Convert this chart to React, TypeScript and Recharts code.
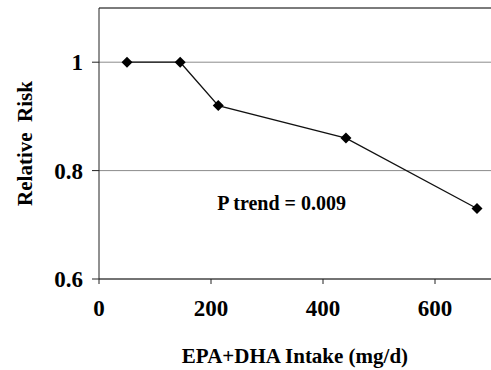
import { LineChart, Line, XAxis, YAxis, CartesianGrid, ReferenceLine, ReferenceDot } from "recharts";

const intake = [50, 145, 213, 441, 675];
const relativeRisk = [1.0, 1.0, 0.92, 0.86, 0.73];
const xTicks = [0, 200, 400, 600];
const yTicks = [0.6, 0.8, 1];

const data = intake.map((x, i) => ({ x, rr: relativeRisk[i] }));

const FONT = "'Liberation Serif', 'Times New Roman', serif";

const Diamond = (props: any) => {
  const { cx, cy } = props;
  if (cx == null || cy == null) return null;
  const r = 5.5;
  return <path d={`M${cx},${cy - r}L${cx + r},${cy}L${cx},${cy + r}L${cx - r},${cy}Z`} fill="#000" />;
};

const App = () => {
  return (
    <div style={{ position: "absolute", left: 0, top: 0, background: "#fff" }}>
      <LineChart width={491} height={370} data={data} margin={{ top: 8, right: 0, bottom: 0, left: 0 }}>
        <CartesianGrid horizontal vertical={false} stroke="#8c8c8c" />
        <XAxis
          type="number"
          dataKey="x"
          domain={[0, 700]}
          ticks={xTicks}
          height={91}
          stroke="#222"
          tickSize={5}
          tickMargin={16}
          tick={{ fontFamily: FONT, fontSize: 23, fontWeight: "bold", fill: "#000" }}
          label={{ value: "EPA+DHA Intake (mg/d)", position: "insideBottom", offset: 7, fontFamily: FONT, fontSize: 21, fontWeight: "bold", fill: "#000" }}
        />
        <YAxis
          type="number"
          domain={[0.6, 1.1]}
          ticks={yTicks}
          width={99}
          stroke="#222"
          tickSize={7}
          tickMargin={9}
          tick={{ fontFamily: FONT, fontSize: 23, fontWeight: "bold", fill: "#000" }}
          label={{ value: "Relative\u00a0\u00a0Risk", angle: -90, position: "insideLeft", offset: 25, textAnchor: "middle", fontFamily: FONT, fontSize: 21, fontWeight: "bold", fill: "#000" }}
        />
        <ReferenceLine y={1.1} stroke="#333" strokeWidth={1} />
        <ReferenceDot
          x={326}
          y={0.74}
          r={0}
          stroke="none"
          label={{ value: "P trend = 0.009", position: "center", fontFamily: FONT, fontSize: 20, fontWeight: "bold", fill: "#000" }}
        />
        <Line type="linear" dataKey="rr" stroke="#111" strokeWidth={1.3} dot={<Diamond />} activeDot={false} isAnimationActive={false} />
      </LineChart>
    </div>
  );
};

export default App;
